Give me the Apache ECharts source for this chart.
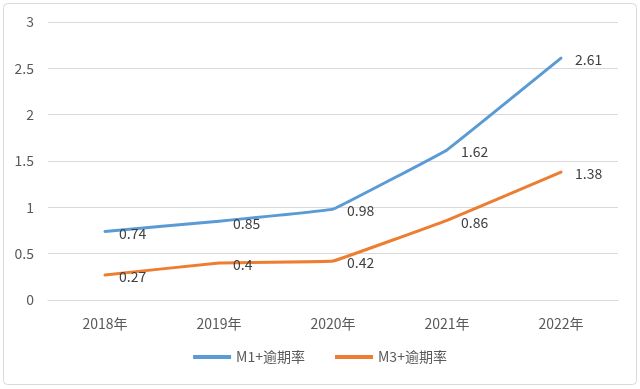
<!DOCTYPE html>
<html><head><meta charset="utf-8">
<script src="https://cdn.jsdelivr.net/npm/echarts@6/dist/echarts.min.js"></script>
<style>html,body{margin:0;padding:0;background:#fff}#c{width:640px;height:389px}</style>
</head><body><div id="c"></div>
<script>
const categories = ['2018年','2019年','2020年','2021年','2022年'];
const m1Values = [0.74, 0.85, 0.98, 1.62, 2.61];
const m3Values = [0.27, 0.4, 0.42, 0.86, 1.38];
const seriesNames = ['M1+逾期率','M3+逾期率'];
const font = '"Noto Sans CJK SC", "Noto Sans", sans-serif';
const chart = echarts.init(document.getElementById('c'), null, {renderer:'canvas'});
const labelCfg = {show:true, position:'right', distance:14, offset:[0,2], color:'#404040', fontSize:14, fontFamily:font};
chart.setOption({
  animation:false,
  backgroundColor:'#fff',
  graphic:[{type:'rect', shape:{x:3.5,y:3.5,width:633,height:381,r:4}, style:{fill:'none', stroke:'#d9d9d9', lineWidth:1}}],
  grid:{left:48, right:22, top:22, bottom:89},
  legend:{bottom:20, left:'center', itemWidth:38, itemHeight:4, itemGap:30, icon:'rect',
    textStyle:{color:'#595959', fontSize:14, fontFamily:font}, data:seriesNames},
  xAxis:{type:'category', data:categories, boundaryGap:true,
    axisLine:{lineStyle:{color:'#d9d9d9'}}, axisTick:{show:false},
    axisLabel:{color:'#595959', fontSize:14, fontFamily:font, margin:17}},
  yAxis:{type:'value', min:0, max:3, interval:0.5,
    axisLine:{show:false}, axisTick:{show:false},
    splitLine:{lineStyle:{color:'#d9d9d9'}},
    axisLabel:{color:'#595959', fontSize:14, fontFamily:font, margin:14}},
  series:[
    {name:seriesNames[0], type:'line', data:m1Values, smooth:0.04, symbol:'circle', symbolSize:0, showSymbol:true,
     lineStyle:{width:3, color:'#5b9bd5', cap:'round', join:'round'}, itemStyle:{color:'#5b9bd5'}, label:labelCfg},
    {name:seriesNames[1], type:'line', data:m3Values, smooth:0.04, symbol:'circle', symbolSize:0, showSymbol:true,
     lineStyle:{width:3, color:'#ed7d31', cap:'round', join:'round'}, itemStyle:{color:'#ed7d31'}, label:labelCfg}
  ]
});
</script></body></html>
